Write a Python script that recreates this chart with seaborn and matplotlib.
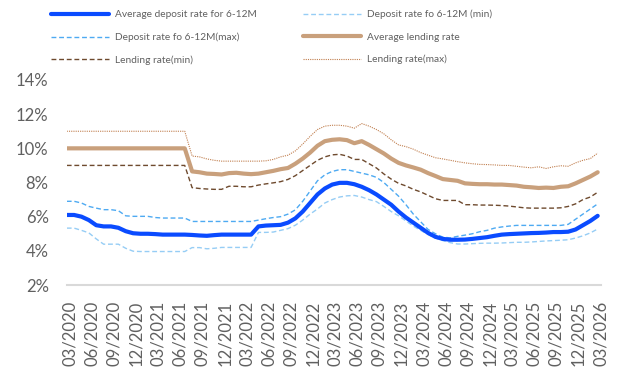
import numpy as np
import pandas as pd
import matplotlib
matplotlib.use("Agg")
import matplotlib.pyplot as plt
import matplotlib.transforms as mtransforms
import seaborn as sns

# Monthly observations, 03/2020 .. 03/2026 (73 months)
avg_deposit = [
    6.10, 6.10, 6.00, 5.80, 5.50, 5.43, 5.43, 5.35, 5.15, 5.03,
    5.00, 5.00, 4.98, 4.95, 4.95, 4.95, 4.95, 4.93, 4.90, 4.88,
    4.92, 4.95, 4.95, 4.95, 4.95, 4.95, 5.43, 5.48, 5.50, 5.52,
    5.65, 5.90, 6.30, 6.80, 7.30, 7.65, 7.88, 7.98, 7.98, 7.90,
    7.75, 7.55, 7.30, 7.00, 6.70, 6.30, 5.95, 5.65, 5.35, 5.05,
    4.82, 4.70, 4.65, 4.65, 4.66, 4.70, 4.75, 4.80, 4.88, 4.95,
    4.98, 5.00, 5.02, 5.04, 5.05, 5.07, 5.10, 5.10, 5.12, 5.25,
    5.50, 5.75, 6.05,
]
deposit_min = [
    5.33, 5.33, 5.20, 5.05, 4.70, 4.39, 4.39, 4.39, 4.15, 3.98,
    3.96, 3.96, 3.96, 3.96, 3.96, 3.96, 3.96, 4.19, 4.19, 4.12,
    4.15, 4.20, 4.20, 4.20, 4.20, 4.20, 5.08, 5.08, 5.10, 5.20,
    5.30, 5.50, 5.80, 6.15, 6.45, 6.80, 7.00, 7.15, 7.22, 7.24,
    7.15, 7.00, 6.88, 6.60, 6.30, 6.05, 5.75, 5.45, 5.20, 4.95,
    4.75, 4.60, 4.48, 4.40, 4.40, 4.42, 4.44, 4.45, 4.45, 4.46,
    4.48, 4.50, 4.50, 4.52, 4.55, 4.58, 4.60, 4.62, 4.65, 4.75,
    4.88, 5.05, 5.28,
]
deposit_max = [
    6.90, 6.90, 6.80, 6.60, 6.50, 6.41, 6.41, 6.35, 6.05, 6.02,
    6.02, 6.02, 5.95, 5.92, 5.92, 5.92, 5.92, 5.72, 5.72, 5.72,
    5.72, 5.72, 5.72, 5.72, 5.72, 5.72, 5.80, 5.88, 5.95, 6.00,
    6.15, 6.40, 6.90, 7.50, 8.10, 8.45, 8.65, 8.75, 8.75, 8.65,
    8.55, 8.45, 8.30, 8.00, 7.60, 7.20, 6.70, 6.15, 5.70, 5.25,
    5.00, 4.80, 4.76, 4.85, 4.92, 5.00, 5.12, 5.20, 5.33, 5.40,
    5.45, 5.49, 5.49, 5.49, 5.49, 5.49, 5.49, 5.49, 5.55, 5.85,
    6.15, 6.45, 6.75,
]
avg_lending = [
    10.00, 10.00, 10.00, 10.00, 10.00, 10.00, 10.00, 10.00, 10.00, 10.00,
    10.00, 10.00, 10.00, 10.00, 10.00, 10.00, 10.00, 8.65, 8.60, 8.52,
    8.50, 8.47, 8.55, 8.57, 8.52, 8.49, 8.52, 8.60, 8.68, 8.78,
    8.85, 9.10, 9.40, 9.75, 10.15, 10.42, 10.50, 10.53, 10.48, 10.30,
    10.42, 10.20, 9.95, 9.70, 9.40, 9.15, 9.00, 8.88, 8.75, 8.55,
    8.38, 8.20, 8.15, 8.10, 7.95, 7.92, 7.90, 7.90, 7.88, 7.88,
    7.85, 7.82, 7.75, 7.72, 7.68, 7.70, 7.68, 7.75, 7.78, 7.95,
    8.15, 8.35, 8.60,
]
lending_min = [
    9.00, 9.00, 9.00, 9.00, 9.00, 9.00, 9.00, 9.00, 9.00, 9.00,
    9.00, 9.00, 9.00, 9.00, 9.00, 9.00, 9.00, 7.70, 7.65, 7.62,
    7.60, 7.60, 7.78, 7.78, 7.75, 7.75, 7.85, 7.92, 7.98, 8.05,
    8.18, 8.40, 8.70, 9.00, 9.30, 9.50, 9.62, 9.65, 9.55, 9.35,
    9.35, 9.10, 8.85, 8.50, 8.20, 7.95, 7.80, 7.60, 7.45, 7.25,
    7.05, 6.95, 6.95, 6.95, 6.70, 6.70, 6.68, 6.68, 6.67, 6.65,
    6.62, 6.57, 6.52, 6.50, 6.50, 6.50, 6.50, 6.52, 6.60, 6.75,
    7.00, 7.15, 7.43,
]
lending_max = [
    11.00, 11.00, 11.00, 11.00, 11.00, 11.00, 11.00, 11.00, 11.00, 11.00,
    11.00, 11.00, 11.00, 11.00, 11.00, 11.00, 11.00, 9.55, 9.50, 9.38,
    9.30, 9.25, 9.25, 9.25, 9.25, 9.25, 9.25, 9.27, 9.35, 9.50,
    9.60, 9.85, 10.25, 10.70, 11.10, 11.30, 11.35, 11.35, 11.30, 11.18,
    11.45, 11.30, 11.10, 10.85, 10.50, 10.20, 10.10, 9.95, 9.75, 9.60,
    9.45, 9.38, 9.30, 9.22, 9.15, 9.10, 9.06, 9.05, 9.03, 9.00,
    9.00, 8.95, 8.90, 8.86, 8.92, 8.82, 8.92, 8.98, 8.95, 9.15,
    9.30, 9.40, 9.72,
]

tick_labels = [
    "03/2020", "06/2020", "09/2020", "12/2020",
    "03/2021", "06/2021", "09/2021", "12/2021",
    "03/2022", "06/2022", "09/2022", "12/2022",
    "03/2023", "06/2023", "09/2023", "12/2023",
    "03/2024", "06/2024", "09/2024", "12/2024",
    "03/2025", "06/2025", "09/2025", "12/2025",
    "03/2026",
]

series_names = [
    "Average deposit rate for 6-12M",
    "Deposit rate fo 6-12M(max)",
    "Lending rate(min)",
    "Deposit rate fo 6-12M (min)",
    "Average lending rate",
    "Lending rate(max)",
]
series_values = [avg_deposit, deposit_max, lending_min,
                 deposit_min, avg_lending, lending_max]

month_idx = np.arange(len(avg_deposit))
frames = [pd.DataFrame({"month": month_idx, "rate": vals, "series": name})
          for name, vals in zip(series_names, series_values)]
df = pd.concat(frames, ignore_index=True)

styles = {
    "Average deposit rate for 6-12M": dict(color="#0A4BFF", lw=3.0, ls="-", z=6),
    "Deposit rate fo 6-12M(max)": dict(color="#4EAAF2", lw=1.0, ls=(0, (3.5, 2)), z=5),
    "Lending rate(min)": dict(color="#6E4A2E", lw=1.0, ls=(0, (3.5, 2)), z=4),
    "Deposit rate fo 6-12M (min)": dict(color="#96CDF5", lw=1.0, ls=(0, (3.5, 2)), z=5),
    "Average lending rate": dict(color="#C9A07C", lw=3.0, ls="-", z=4),
    "Lending rate(max)": dict(color="#C07E4E", lw=0.8, ls=(0, (1, 1)), z=3),
}

sns.set_theme(style="white")
plt.rcParams["font.family"] = ["Lato", "DejaVu Sans"]
text_grey = "#606060"

fig = plt.figure(figsize=(6.18, 3.69), dpi=100)
ax = fig.add_axes([0.108, 0.2276, 0.8645, 0.5556])

for name in series_names:
    st = styles[name]
    sns.lineplot(data=df[df["series"] == name], x="month", y="rate", ax=ax,
                 color=st["color"], linewidth=st["lw"], linestyle=st["ls"],
                 label=name, zorder=st["z"], legend=False)

ax.set_xlim(0, 72.45)
ax.set_ylim(2, 14)
ax.set_yticks(np.arange(2, 15, 2))
ax.set_yticklabels([f"{v}%" for v in range(2, 15, 2)])
ax.set_xticks(np.arange(0, 73, 3))
ax.set_xticklabels(tick_labels, rotation=90, va="top", ha="center")
ax.set_xlabel("")
ax.set_ylabel("")

for side in ("top", "right", "left"):
    ax.spines[side].set_visible(False)
ax.spines["bottom"].set_color("#D9D9D9")
ax.spines["bottom"].set_linewidth(1.5)
ax.tick_params(axis="both", length=0, labelsize=12, labelcolor=text_grey)
ax.tick_params(axis="y", pad=13)
ax.tick_params(axis="x", pad=11)

shift = mtransforms.ScaledTranslation(3 / 100, 0, fig.dpi_scale_trans)
for lbl in ax.get_xticklabels():
    lbl.set_transform(lbl.get_transform() + shift)

handles, labels = ax.get_legend_handles_labels()
leg = fig.legend(handles, labels, ncol=2, loc="upper left",
                 bbox_to_anchor=(0.068, 0.998), frameon=False,
                 fontsize=7.3, handlelength=5.7, handletextpad=0.6,
                 columnspacing=4.6, labelspacing=1.3)
for t in leg.get_texts():
    t.set_color(text_grey)

fig.savefig("out.png", dpi=100)
